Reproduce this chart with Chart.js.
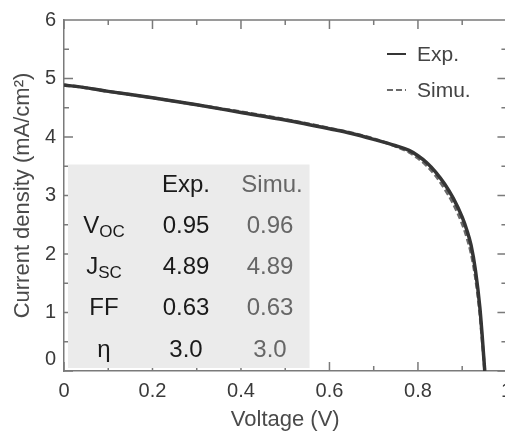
<!DOCTYPE html>
<html>
<head>
<meta charset="utf-8">
<script src="https://cdn.jsdelivr.net/npm/chart.js@4.4.1/dist/chart.umd.min.js"></script>
<style>
  html, body { margin: 0; padding: 0; background: #fff; overflow: hidden; }
  #wrap { position: relative; width: 520px; height: 431px; }
</style>
</head>
<body>
<div id="wrap"><canvas id="jv"></canvas></div>
<script>
// J-V curve
const voltage = [0, 0.05, 0.1, 0.2, 0.3, 0.4, 0.5, 0.6, 0.65, 0.7, 0.75, 0.78, 0.8, 0.82, 0.84, 0.86, 0.88, 0.9, 0.91, 0.92, 0.93, 0.94, 0.945, 0.951];
const expCurrent = [4.89, 4.84, 4.78, 4.67, 4.55, 4.42, 4.29, 4.14, 4.06, 3.96, 3.85, 3.77, 3.68, 3.56, 3.40, 3.20, 2.95, 2.63, 2.42, 2.15, 1.72, 1.08, 0.62, 0];
const simCurrent = [4.89, 4.84, 4.78, 4.67, 4.55, 4.43, 4.30, 4.15, 4.07, 3.97, 3.84, 3.74, 3.64, 3.51, 3.34, 3.12, 2.86, 2.52, 2.30, 2.02, 1.60, 0.98, 0.55, 0];

// parameter table
const tableHeader = ['Exp.', 'Simu.'];
const paramNames = [['V', 'OC'], ['J', 'SC'], ['FF', ''], ['η', '']];
const expParams = ['0.95', '4.89', '0.63', '3.0'];
const simParams = ['0.96', '4.89', '0.63', '3.0'];

const FONT = '"Liberation Sans", Arial, sans-serif';
const axisColor = '#7a7a7a';
const darkText = '#1a1a1a';
const greyText = '#666666';

function toPoints(xs, ys) {
  return xs.map((v, i) => ({ x: v, y: ys[i] }));
}

// ticks pointing into the plot, spines on top/right, and the table box
const framePlugin = {
  id: 'frame',
  beforeDatasetsDraw(chart) {
    const { ctx, chartArea: a, scales: { x, y } } = chart;
    ctx.save();
    ctx.strokeStyle = axisColor;
    ctx.lineWidth = 1.5;
    ctx.beginPath();
    ctx.moveTo(a.left, a.top);
    ctx.lineTo(a.right, a.top);
    ctx.lineTo(a.right, a.bottom);
    for (let i = 0; i <= 10; i++) {
      const px = x.getPixelForValue(i / 10);
      const len = i % 2 === 0 ? 9 : 5;
      ctx.moveTo(px, a.bottom); ctx.lineTo(px, a.bottom - len);
      ctx.moveTo(px, a.top); ctx.lineTo(px, a.top + len);
    }
    for (let i = 0; i <= 12; i++) {
      const py = y.getPixelForValue(i / 2);
      const len = i % 2 === 0 ? 9 : 5;
      ctx.moveTo(a.left, py); ctx.lineTo(a.left + len, py);
      ctx.moveTo(a.right, py); ctx.lineTo(a.right - len, py);
    }
    ctx.stroke();

    // table background
    const bx = a.left + 4;
    const by = y.getPixelForValue(3.53);
    ctx.fillStyle = '#ebebeb';
    ctx.fillRect(bx, by, x.getPixelForValue(0.555) - bx, a.bottom - 3 - by);
    ctx.restore();
  },
  afterDatasetsDraw(chart) {
    const { ctx, chartArea: a, scales: { x, y } } = chart;
    ctx.save();
    ctx.textBaseline = 'middle';
    ctx.textAlign = 'center';

    const colName = a.left + 40;
    const colExp = a.left + 122;
    const colSim = a.left + 206;
    const top = y.getPixelForValue(3.53);
    const rowY = [top + 21, top + 62, top + 103, top + 144, top + 186];

    ctx.font = '24px ' + FONT;
    ctx.fillStyle = darkText;
    ctx.fillText(tableHeader[0], colExp, rowY[0]);
    ctx.fillStyle = greyText;
    ctx.fillText(tableHeader[1], colSim + 2, rowY[0]);

    paramNames.forEach((name, i) => {
      const ry = rowY[i + 1];
      ctx.font = '24px ' + FONT;
      const w1 = ctx.measureText(name[0]).width;
      ctx.font = '17px ' + FONT;
      const w2 = name[1] ? ctx.measureText(name[1]).width : 0;
      const start = colName - (w1 + w2) / 2;
      ctx.textAlign = 'left';
      ctx.fillStyle = darkText;
      ctx.font = '24px ' + FONT;
      ctx.fillText(name[0], start, ry);
      if (name[1]) {
        ctx.font = '17px ' + FONT;
        ctx.fillText(name[1], start + w1, ry + 6);
      }
      ctx.textAlign = 'center';
      ctx.font = '24px ' + FONT;
      ctx.fillStyle = darkText;
      ctx.fillText(expParams[i], colExp, ry);
      ctx.fillStyle = greyText;
      ctx.fillText(simParams[i], colSim, ry);
    });

    // legend, top right inside the plot
    const lx = x.getPixelForValue(0.73);
    chart.data.datasets.forEach((ds, i) => {
      const ly = a.top + 34 + i * 36;
      ctx.strokeStyle = ds.borderColor;
      ctx.lineWidth = 2;
      ctx.setLineDash(ds.borderDash || []);
      ctx.beginPath();
      ctx.moveTo(lx, ly);
      ctx.lineTo(lx + 19, ly);
      ctx.stroke();
      ctx.setLineDash([]);
      ctx.textAlign = 'left';
      ctx.fillStyle = '#444';
      ctx.font = '21px ' + FONT;
      ctx.fillText(ds.label, lx + 30, ly + 1);
    });
    ctx.restore();
  }
};

new Chart(document.getElementById('jv'), {
  type: 'line',
  data: {
    datasets: [
      {
        label: 'Exp.',
        data: toPoints(voltage, expCurrent),
        borderColor: '#353535',
        borderWidth: 3.5,
        pointRadius: 0,
        cubicInterpolationMode: 'monotone'
      },
      {
        label: 'Simu.',
        data: toPoints(voltage, simCurrent),
        borderColor: '#6a6a6a',
        borderWidth: 3,
        borderDash: [6, 3],
        pointRadius: 0,
        cubicInterpolationMode: 'monotone'
      }
    ]
  },
  options: {
    responsive: true,
    maintainAspectRatio: false,
    animation: false,
    layout: { padding: { left: 0, top: 19, right: 11, bottom: 0 } },
    plugins: { legend: { display: false }, tooltip: { enabled: false } },
    scales: {
      x: {
        type: 'linear',
        min: 0,
        max: 1,
        grid: { display: false, drawTicks: false },
        border: { display: true, color: axisColor, width: 1.5 },
        ticks: {
          stepSize: 0.2,
          padding: 8,
          color: '#3a3a3a',
          font: { family: FONT, size: 20 },
          maxRotation: 0,
          callback: (v) => {
            if (Math.abs(v) < 1e-9) return '0';
            if (Math.abs(v - 1) < 1e-9) return '1';
            return v.toFixed(1);
          }
        },
        title: {
          display: true,
          text: 'Voltage (V)',
          color: '#4a4a4a',
          font: { family: FONT, size: 22 },
          padding: { top: 0, bottom: -2 }
        },
        afterFit: (scale) => { scale.height = 60; }
      },
      y: {
        min: 0,
        max: 6,
        grid: { display: false, drawTicks: false },
        border: { display: true, color: axisColor, width: 1.5 },
        ticks: {
          stepSize: 1,
          padding: 8,
          color: '#3a3a3a',
          font: { family: FONT, size: 20 },
          callback: (v) => (v === 0 ? ['0', ''] : String(v))
        },
        title: {
          display: true,
          text: 'Current density (mA/cm²)',
          color: '#4a4a4a',
          font: { family: FONT, size: 22 },
          padding: { top: 10, bottom: 0 }
        },
        afterFit: (scale) => { scale.width = 64; }
      }
    }
  },
  plugins: [framePlugin]
});
</script>
</body>
</html>
